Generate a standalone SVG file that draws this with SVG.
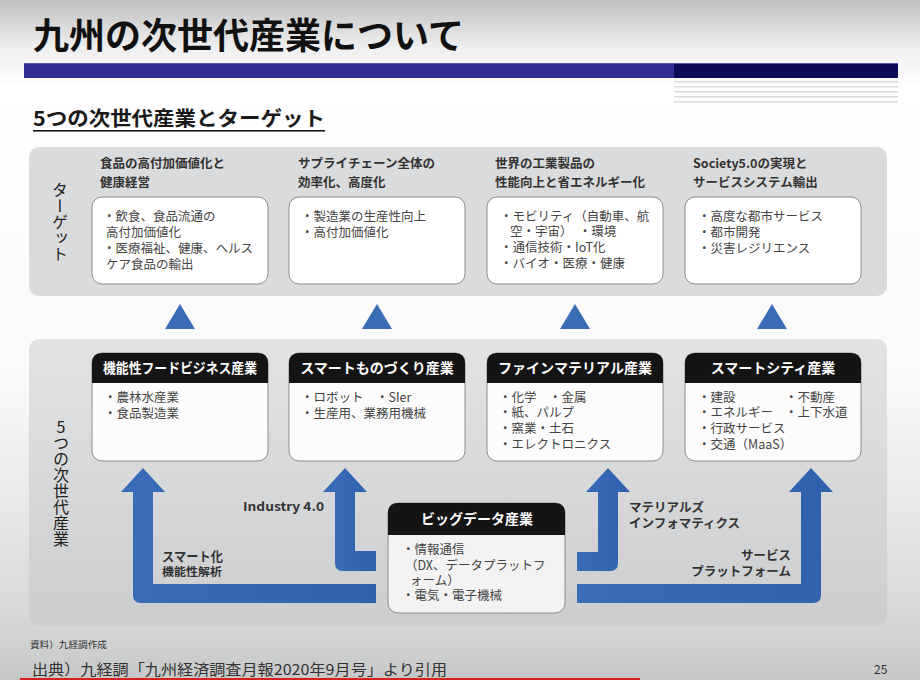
<svg xmlns="http://www.w3.org/2000/svg" width="920" height="680" viewBox="0 0 920 680">
<defs>
<linearGradient id="bg" x1="0" y1="0" x2="0" y2="1">
<stop offset="0" stop-color="#c0c0c0"/>
<stop offset="0.07" stop-color="#efefef"/>
<stop offset="0.13" stop-color="#ffffff"/>
<stop offset="0.55" stop-color="#fafafa"/>
<stop offset="0.9" stop-color="#d7d9d8"/>
<stop offset="1" stop-color="#c6c8c7"/>
</linearGradient>
<linearGradient id="panel2" x1="0" y1="0" x2="0" y2="1">
<stop offset="0" stop-color="#e1e3e4"/>
<stop offset="1" stop-color="#cbcdce"/>
</linearGradient>
<linearGradient id="arrowFill" x1="0" y1="0" x2="1" y2="0">
<stop offset="0" stop-color="#3a6cb8"/>
<stop offset="1" stop-color="#3161ad"/>
</linearGradient>
</defs>
<style>
text{font-family:"Noto Sans CJK JP","Noto Sans",sans-serif;}
.title{font-size:36px;font-weight:700;fill:#111;}
.sub{font-size:20px;font-weight:700;fill:#1a1a1a;}
.vlabel{font-size:16px;fill:#222;writing-mode:vertical-rl;text-orientation:upright;}
.head{font-size:12.5px;font-weight:700;fill:#333;}
.body{font-size:12.5px;fill:#444;}
.box{fill:#ffffff;stroke:#8c8c8c;stroke-width:1;}
.ibody{fill:#fcfcfc;stroke:#8c8c8c;stroke-width:1;}
.ihead{fill:#141414;}
.ihtext{font-size:14px;font-weight:700;fill:#ffffff;text-anchor:middle;}
.tri{fill:#3a6cb6;}
.arrow{fill:url(#arrowFill);}
.alabel{font-size:12.5px;font-weight:700;fill:#333;}
.foot{fill:#333;}
</style>
<rect x="0" y="0" width="920" height="680" fill="url(#bg)"/>
<g id="header">
<text class="title" x="33" y="49">九州の次世代産業について</text>
<rect x="24" y="63" width="650" height="15" fill="#2f2f96"/>
<rect x="674" y="63" width="224" height="15" fill="#0b0b57"/>
<rect x="24" y="63" width="874" height="1" fill="#5a5ab8"/>
<g fill="#dadada">
<rect x="674" y="81" width="224" height="1.5"/>
<rect x="674" y="86" width="224" height="1.5"/>
<rect x="674" y="91" width="224" height="1.5"/>
<rect x="674" y="96" width="224" height="1.5"/>
<rect x="674" y="101" width="224" height="1.5"/>
</g>
<text class="sub" x="33" y="126" textLength="292" lengthAdjust="spacingAndGlyphs">5つの次世代産業とターゲット</text>
<rect x="33" y="130" width="292" height="1.6" fill="#1a1a1a"/>
</g>
<g id="target-panel">
<rect x="29" y="147" width="858" height="149" rx="10" fill="#d9dbdc"/>
<text class="vlabel" x="60" y="182">ターゲット</text>
</g>
<g id="target-1">
<text class="head" x="100" y="168">食品の高付加価値化と</text>
<text class="head" x="100" y="187">健康経営</text>
<rect class="box" x="92" y="197" width="176" height="87" rx="10"/>
<text class="body" x="103" y="221">・飲食、食品流通の</text>
<text class="body" x="106" y="237">高付加価値化</text>
<text class="body" x="103" y="253">・医療福祉、健康、ヘルス</text>
<text class="body" x="106" y="269">ケア食品の輸出</text>
</g>
<g id="target-2">
<text class="head" x="298" y="168">サプライチェーン全体の</text>
<text class="head" x="298" y="187">効率化、高度化</text>
<rect class="box" x="289" y="197" width="176" height="87" rx="10"/>
<text class="body" x="301" y="221">・製造業の生産性向上</text>
<text class="body" x="301" y="237">・高付加価値化</text>
</g>
<g id="target-3">
<text class="head" x="495" y="168">世界の工業製品の</text>
<text class="head" x="495" y="187">性能向上と省エネルギー化</text>
<rect class="box" x="487" y="197" width="176" height="87" rx="10"/>
<text class="body" x="500" y="221">・モビリティ（自動車、航</text>
<text class="body" x="510" y="236">空・宇宙）　・環境</text>
<text class="body" x="500" y="252">・通信技術・IoT化</text>
<text class="body" x="500" y="268">・バイオ・医療・健康</text>
</g>
<g id="target-4">
<text class="head" x="693" y="168">Society5.0の実現と</text>
<text class="head" x="693" y="187">サービスシステム輸出</text>
<rect class="box" x="685" y="197" width="176" height="87" rx="10"/>
<text class="body" x="698" y="221">・高度な都市サービス</text>
<text class="body" x="698" y="237">・都市開発</text>
<text class="body" x="698" y="253">・災害レジリエンス</text>
</g>
<g id="connectors">
<polygon class="tri" points="180,304 195,329 165,329"/>
<polygon class="tri" points="377,304 392,329 362,329"/>
<polygon class="tri" points="575,304 590,329 560,329"/>
<polygon class="tri" points="772,304 787,329 757,329"/>
</g>
<g id="industry-panel">
<rect x="29" y="339" width="858" height="287" rx="10" fill="url(#panel2)"/>
<text class="vlabel" x="61" y="419">5つの次世代産業</text>
</g>
<g id="connectors-arrows">
<path class="arrow" d="M376,584 L153,584 L153,492 L165,492 L143,468 L121,492 L133,492 L133,595 Q133,603 141,603 L376,603 Z"/>
<path class="arrow" d="M376,551 L355,551 L355,492 L367,492 L345,468 L323,492 L335,492 L335,563 Q335,571 343,571 L376,571 Z"/>
<path class="arrow" d="M577,552 L598,552 L598,492 L586,492 L608,468 L630,492 L618,492 L618,563 Q618,571 610,571 L577,571 Z"/>
<path class="arrow" d="M577,584 L801,584 L801,492 L789,492 L811,468 L833,492 L821,492 L821,595 Q821,603 813,603 L577,603 Z"/>
<text class="alabel" x="243" y="511" style="font-size:12px" textLength="81" lengthAdjust="spacingAndGlyphs">Industry 4.0</text>
<text class="alabel" x="162" y="561" style="font-size:13px" textLength="61" lengthAdjust="spacingAndGlyphs">スマート化</text>
<text class="alabel" x="162" y="576" style="font-size:11.5px" textLength="60" lengthAdjust="spacingAndGlyphs">機能性解析</text>
<text class="alabel" x="629" y="512">マテリアルズ</text>
<text class="alabel" x="629" y="528">インフォマティクス</text>
<text class="alabel" x="791" y="560" text-anchor="end">サービス</text>
<text class="alabel" x="791" y="576" text-anchor="end">プラットフォーム</text>
</g>
<g id="industry-1">
<rect class="ibody" x="92" y="353" width="176" height="108" rx="10"/>
<path class="ihead" d="M92,383 L92,363 Q92,353 102,353 L258,353 Q268,353 268,363 L268,383 Z"/>
<text class="ihtext" x="180" y="373" textLength="154" lengthAdjust="spacingAndGlyphs">機能性フードビジネス産業</text>
<text class="body" x="104" y="402">・農林水産業</text>
<text class="body" x="104" y="418">・食品製造業</text>
</g>
<g id="industry-2">
<rect class="ibody" x="289" y="353" width="176" height="108" rx="10"/>
<path class="ihead" d="M289,383 L289,363 Q289,353 299,353 L455,353 Q465,353 465,363 L465,383 Z"/>
<text class="ihtext" x="377" y="373">スマートものづくり産業</text>
<text class="body" x="301" y="402">・ロボット　・SIer</text>
<text class="body" x="301" y="418">・生産用、業務用機械</text>
</g>
<g id="industry-3">
<rect class="ibody" x="487" y="353" width="176" height="108" rx="10"/>
<path class="ihead" d="M487,383 L487,363 Q487,353 497,353 L653,353 Q663,353 663,363 L663,383 Z"/>
<text class="ihtext" x="575" y="373">ファインマテリアル産業</text>
<text class="body" x="499" y="402">・化学　・金属</text>
<text class="body" x="499" y="417">・紙、パルプ</text>
<text class="body" x="499" y="433">・窯業・土石</text>
<text class="body" x="499" y="449">・エレクトロニクス</text>
</g>
<g id="industry-4">
<rect class="ibody" x="685" y="353" width="176" height="108" rx="10"/>
<path class="ihead" d="M685,383 L685,363 Q685,353 695,353 L851,353 Q861,353 861,363 L861,383 Z"/>
<text class="ihtext" x="773" y="373">スマートシティ産業</text>
<text class="body" x="698" y="402">・建設</text>
<text class="body" x="785" y="402">・不動産</text>
<text class="body" x="698" y="417">・エネルギー</text>
<text class="body" x="785" y="417">・上下水道</text>
<text class="body" x="698" y="433">・行政サービス</text>
<text class="body" x="698" y="449">・交通（MaaS）</text>
</g>
<g id="industry-bigdata">
<rect x="388" y="503" width="177" height="110" rx="10" fill="#f3f3f3" stroke="#8c8c8c" stroke-width="1"/>
<path class="ihead" d="M388,535 L388,513 Q388,503 398,503 L555,503 Q565,503 565,513 L565,535 Z"/>
<text class="ihtext" x="477" y="524">ビッグデータ産業</text>
<text class="body" x="402" y="554">・情報通信</text>
<text class="body" x="405" y="570">（DX、データプラットフ</text>
<text class="body" x="410" y="585">ォーム）</text>
<text class="body" x="402" y="600">・電気・電子機械</text>
</g>
<g id="footer">
<text class="foot" x="30" y="648" style="font-size:9px" textLength="77" lengthAdjust="spacingAndGlyphs">資料）九経調作成</text>
<text class="foot" x="32" y="675" style="font-size:15px" textLength="415" lengthAdjust="spacingAndGlyphs">出典）九経調「九州経済調査月報2020年9月号」より引用</text>
<text class="foot" x="874" y="674" style="font-size:12px">25</text>
<rect x="20" y="678" width="620" height="2" fill="#d42020"/>
</g>
</svg>
